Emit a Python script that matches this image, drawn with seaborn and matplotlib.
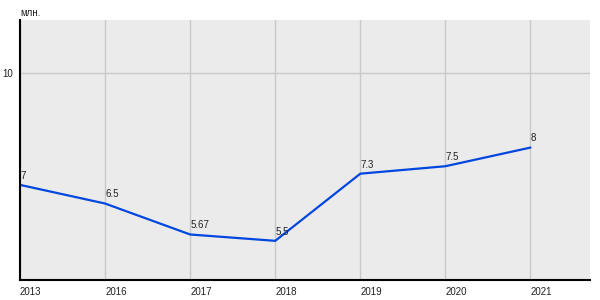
import matplotlib
matplotlib.use("Agg")
import matplotlib.pyplot as plt
import seaborn as sns
import pandas as pd

years = ["2013", "2016", "2017", "2018", "2019", "2020", "2021"]
values = [7, 6.5, 5.67, 5.5, 7.3, 7.5, 8]
labels = ["7", "6.5", "5.67", "5.5", "7.3", "7.5", "8"]
yticks = [10]
unit = "млн."

sns.set_theme(style="whitegrid")
plt.rcParams["font.family"] = ["Liberation Sans", "DejaVu Sans"]

df = pd.DataFrame({"year": years, "value": values})

fig = plt.figure(figsize=(6, 3), dpi=100)
ax = fig.add_axes([20/600, 20/300, 570/600, 260/300])
ax.set_facecolor("#ebebeb")

sns.lineplot(data=df, x="year", y="value", ax=ax, color="#0047e0", linewidth=1.6)

for i, (v, t) in enumerate(zip(values, labels)):
    ax.annotate(t, (i, v), xytext=(0, 3), textcoords="offset points",
                ha="left", va="bottom", fontsize=7, color="#222222")

ax.set_xlim(0, 6.7)
ax.set_ylim(4.45, 11.42)
ax.set_yticks(yticks)
ax.set_yticklabels([str(y) for y in yticks])
ax.set_xlabel("")
ax.set_ylabel("")

ax.grid(True, color="#c8c8c8", linewidth=1)
for lab in ax.get_xticklabels():
    lab.set_horizontalalignment("left")
ax.tick_params(axis="x", length=0, labelsize=7, pad=5, colors="#222222")
ax.tick_params(axis="y", length=3, width=1, labelsize=7, pad=2, colors="#222222")
ax.tick_params(axis="y", color="black")

for s in ["top", "right"]:
    ax.spines[s].set_visible(False)
for s in ["left", "bottom"]:
    ax.spines[s].set_visible(True)
    ax.spines[s].set_color("black")
    ax.spines[s].set_linewidth(1.5)

fig.text(20/600, 1 - 13/300, unit, fontsize=7, ha="left", va="center", color="#222222")

fig.savefig("out.png", dpi=100, facecolor="white")
